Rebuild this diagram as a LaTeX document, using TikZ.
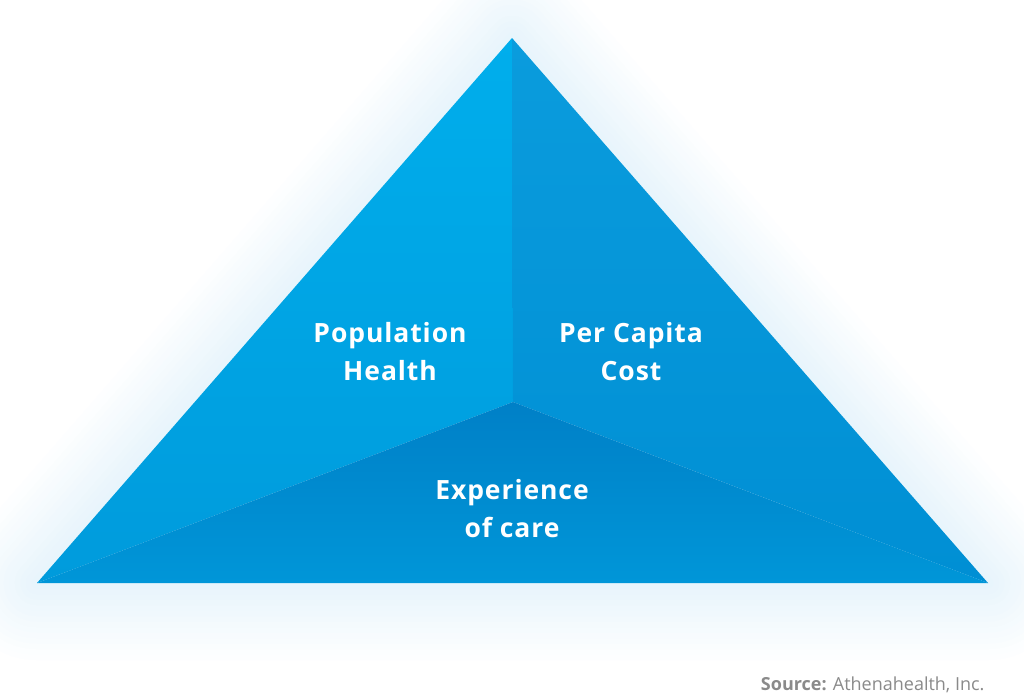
\documentclass[tikz,border=0pt]{standalone}
\usepackage{fontspec}
\setmainfont{Open Sans}
\newfontfamily\lblfont[LetterSpace=3.5]{Open Sans}
\begin{document}
\begin{tikzpicture}[x=1pt,y=-1pt]
\definecolor{faceL1}{HTML}{00AEEC}
\definecolor{faceL2}{HTML}{009BDC}
\definecolor{faceR1}{HTML}{0A9CDD}
\definecolor{faceR2}{HTML}{008FD4}
\definecolor{faceB1}{HTML}{0080C7}
\definecolor{faceB2}{HTML}{0096D8}
\definecolor{halo}{HTML}{5BB5E8}
\definecolor{srcgray}{HTML}{8A8A8A}
\tikzset{
  lbl/.style={text=white, align=center, font=\lblfont\fontsize{26.5}{38}\selectfont\bfseries},
  src/.style={text=srcgray, anchor=base east, font=\fontsize{18}{22}\selectfont}
}
\useasboundingbox (0,0) rectangle (1024,694);
\fill[white] (0,0) rectangle (1024,694);
\coordinate (A) at (512,38);
\coordinate (L) at (37,583);
\coordinate (R) at (988,583);
\coordinate (C) at (513,402);
% halo (opaque rings from outside in)
\foreach \i in {14,...,1}{
  \pgfmathsetmacro\p{(15-\i)*1.0}
  \draw[draw=halo!\p!white, line width=\i*11pt, line join=round] (A) -- (L) -- (R) -- cycle;
}
\shade[top color=faceL1, bottom color=faceL2] (A) -- (C) -- (L) -- cycle;
\shade[top color=faceR1, bottom color=faceR2] (A) -- (C) -- (R) -- cycle;
\shade[top color=faceB1, bottom color=faceB2] (L) -- (C) -- (R) -- cycle;
\node[lbl] (ph) at (390,352) {Population\\Health};
\node[lbl] (pc) at (631,352) {Per Capita\\Cost};
\node[lbl] (ex) at (512,509) {Experience\\of care};
\node[src] (s) at (988,690) {\textbf{Source:} Athenahealth, Inc.};
\end{tikzpicture}
\end{document}
